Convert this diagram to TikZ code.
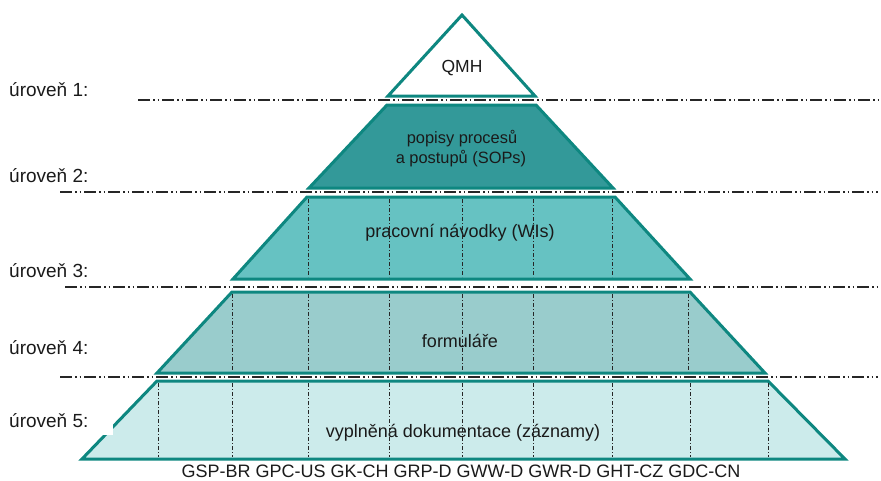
\documentclass[tikz,border=0pt]{standalone}
\usepackage{fontspec}
\setmainfont{Liberation Sans}
\definecolor{tealedge}{HTML}{0E8780}
\definecolor{lvtwo}{HTML}{339999}
\definecolor{lvthree}{HTML}{66C2C2}
\definecolor{lvfour}{HTML}{99CCCC}
\definecolor{lvfive}{HTML}{CCEBEB}
\definecolor{inktext}{HTML}{1A1A1A}
\begin{document}
\begin{tikzpicture}[x=1pt,y=-1pt,
  band/.style={draw=tealedge, line width=3pt, line join=miter},
  sepline/.style={draw=black!85, line width=1.1pt,
    dash pattern=on 12pt off 3pt on 1.5pt off 3pt on 1.5pt off 3pt},
  gridline/.style={draw=black!85, line width=1pt,
    dash pattern=on 4pt off 2pt on 1pt off 2pt},
  lvl/.style={anchor=base west, inner sep=0pt, text=inktext,
    font=\fontsize{19}{22}\selectfont},
  body/.style={anchor=base, inner sep=0pt, text=inktext,
    font=\fontsize{18}{22}\selectfont},
]
\useasboundingbox (0,0) rectangle (881,480);

% pyramid bands, top to bottom
\path[band, fill=white]  (462,15) -- (535,96) -- (388,96) -- cycle;
\path[band, fill=lvtwo]  (387,105) -- (536,105) -- (613,188) -- (309,188) -- cycle;
\path[band, fill=lvthree] (307,197) -- (615,197) -- (690,279) -- (233,279) -- cycle;
\path[band, fill=lvfour] (232,292) -- (690,292) -- (765,373) -- (157,373) -- cycle;
\path[band, fill=lvfive] (157,381) -- (768,381) -- (845,459) -- (82,459) -- cycle;

% column dividers inside the bands
\foreach \x in {308,389,462,533,612}
  \draw[gridline] (\x,199) -- (\x,277);
\foreach \x in {232,308,389,462,533,612,688}
  \draw[gridline] (\x,294) -- (\x,371);
\foreach \x in {158,232,308,389,462,533,612,690,768}
  \draw[gridline] (\x,383) -- (\x,457);

% level separators
\coordinate (s1a) at (138,100); \coordinate (s1b) at (878,100);
\coordinate (s2a) at (60,192);  \coordinate (s2b) at (878,192);
\coordinate (s3a) at (65,287);  \coordinate (s3b) at (878,287);
\coordinate (s4a) at (60,377);  \coordinate (s4b) at (878,377);
\draw[sepline] (s1a) -- (s1b);
\draw[sepline] (s2a) -- (s2b);
\draw[sepline] (s3a) -- (s3b);
\draw[sepline] (s4a) -- (s4b);

% white patch over the lower left edge
\fill[white] (92,419) rectangle (113,435);

% level labels
\node[lvl] (u1) at (9,96)  {úroveň 1:};
\node[lvl] (u2) at (9,182) {úroveň 2:};
\node[lvl] (u3) at (9,277) {úroveň 3:};
\node[lvl] (u4) at (9,354) {úroveň 4:};
\node[lvl] (u5) at (9,427) {úroveň 5:};

% band texts
\node[body, font=\fontsize{17.5}{21}\selectfont] (qmh) at (462,72) {QMH};
\node[body, font=\fontsize{16.4}{20}\selectfont] (sop1) at (462,143) {popisy procesů};
\node[body, font=\fontsize{16.4}{20}\selectfont] (sop2) at (461,163) {a postupů (SOPs)};
\node[body] (wis) at (460,237) {pracovní návodky (WIs)};
\node[body] (frm) at (460,347) {formuláře};
\node[body] (rec) at (463,437) {vyplněná dokumentace (záznamy)};

% sites
\node[body, text depth=0pt] (sites) at (461,477) {GSP-BR GPC-US GK-CH GRP-D GWW-D GWR-D GHT-CZ GDC-CN};
\end{tikzpicture}
\end{document}
